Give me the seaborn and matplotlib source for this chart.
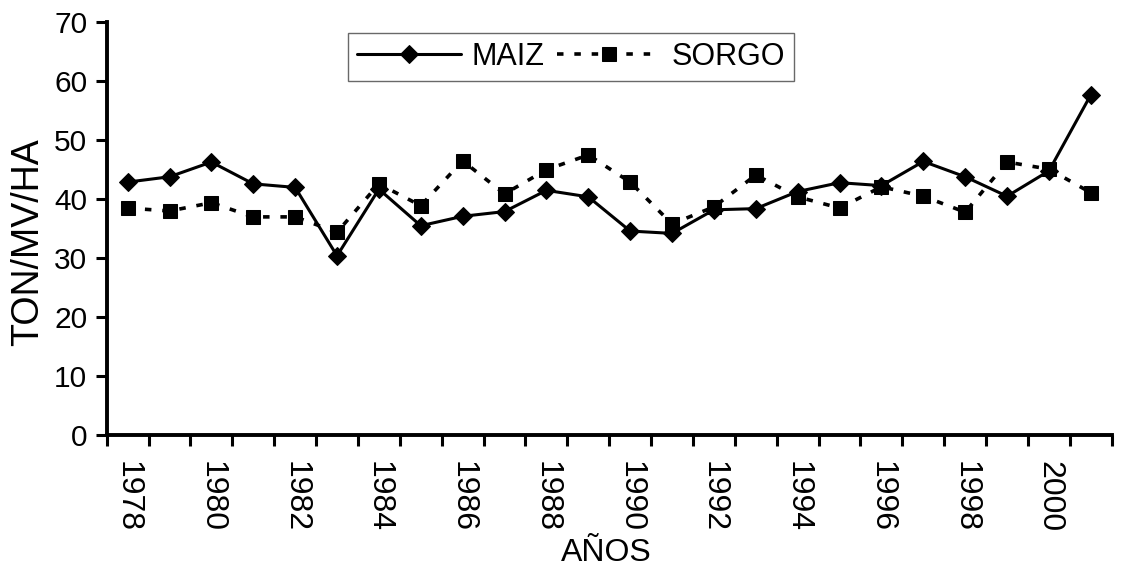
import numpy as np
import pandas as pd
import matplotlib
matplotlib.use("Agg")
import matplotlib.pyplot as plt
import seaborn as sns

# yields per year
years = list(range(1978, 2002))
maiz = [42.9, 43.8, 46.3, 42.6, 42.0, 30.4, 41.7, 35.5, 37.1, 37.9, 41.5, 40.4,
        34.6, 34.2, 38.2, 38.4, 41.3, 42.8, 42.3, 46.4, 43.8, 40.5, 44.8, 57.7]
sorgo = [38.5, 38.0, 39.4, 37.0, 37.0, 34.4, 42.6, 38.9, 46.5, 40.9, 45.0, 47.5,
         42.9, 35.8, 38.7, 44.1, 40.4, 38.5, 42.1, 40.5, 37.8, 46.3, 45.1, 41.1]

df = pd.DataFrame({'pos': np.arange(len(years)), 'year': years,
                   'MAIZ': maiz, 'SORGO': sorgo})

sns.set_style('white', {'text.color': 'black', 'axes.labelcolor': 'black',
                        'xtick.color': 'black', 'ytick.color': 'black'})
plt.rcParams['font.family'] = ['Liberation Sans', 'DejaVu Sans']

fig = plt.figure(figsize=(11.23, 5.71), dpi=100)
ax = fig.add_axes([0.095, 0.238, 0.895, 0.723])

sns.lineplot(data=df, x='pos', y='MAIZ', ax=ax, color='black', lw=2.2,
             marker='D', markersize=9.5, markeredgecolor='black', label='MAIZ')
sns.lineplot(data=df, x='pos', y='SORGO', ax=ax, color='black', lw=2.6,
             linestyle=(0, (1.8, 3.0)), marker='s', markersize=10,
             markeredgecolor='black', label='SORGO')

ax.set_xlim(-0.5, len(years) - 0.5)
ax.set_ylim(0, 70)
ax.set_yticks(range(0, 71, 10))

# tick marks between categories, labels at the category centres
ax.set_xticks(np.arange(-0.5, len(years), 1))
ax.set_xticklabels([])
ax.set_xticks(df['pos'][::2], minor=True)
ax.set_xticklabels([str(y) for y in years[::2]], minor=True, rotation=270,
                   fontsize=23)
ax.tick_params(axis='x', which='major', direction='out', length=8, width=2.2,
               bottom=True, color='black')
ax.tick_params(axis='x', which='minor', length=0, pad=19, labelcolor='black')
ax.tick_params(axis='y', direction='out', length=8, width=2.2, left=True,
               labelsize=21.5, pad=6, color='black', labelcolor='black')

for s in ['top', 'right']:
    ax.spines[s].set_visible(False)
for s in ['left', 'bottom']:
    ax.spines[s].set_linewidth(2.8)
    ax.spines[s].set_color('black')

ax.set_ylabel('TON/MV/HA', fontsize=27, color='black')
ax.yaxis.set_label_coords(-0.06, 0.467)
ax.set_xlabel('AÑOS', fontsize=23, color='black')
ax.xaxis.set_label_coords(0.497, -0.25)

leg = ax.legend(loc='upper center', bbox_to_anchor=(0.462, 0.975), ncol=2,
                frameon=True, fancybox=False, fontsize=22, handlelength=3.4,
                handletextpad=0.35, columnspacing=0.4, borderpad=0.3,
                borderaxespad=0)
leg.get_frame().set_edgecolor('#444444')
leg.get_frame().set_linewidth(1.0)
for t in leg.get_texts():
    t.set_color('black')

fig.savefig('out.png', dpi=100)
